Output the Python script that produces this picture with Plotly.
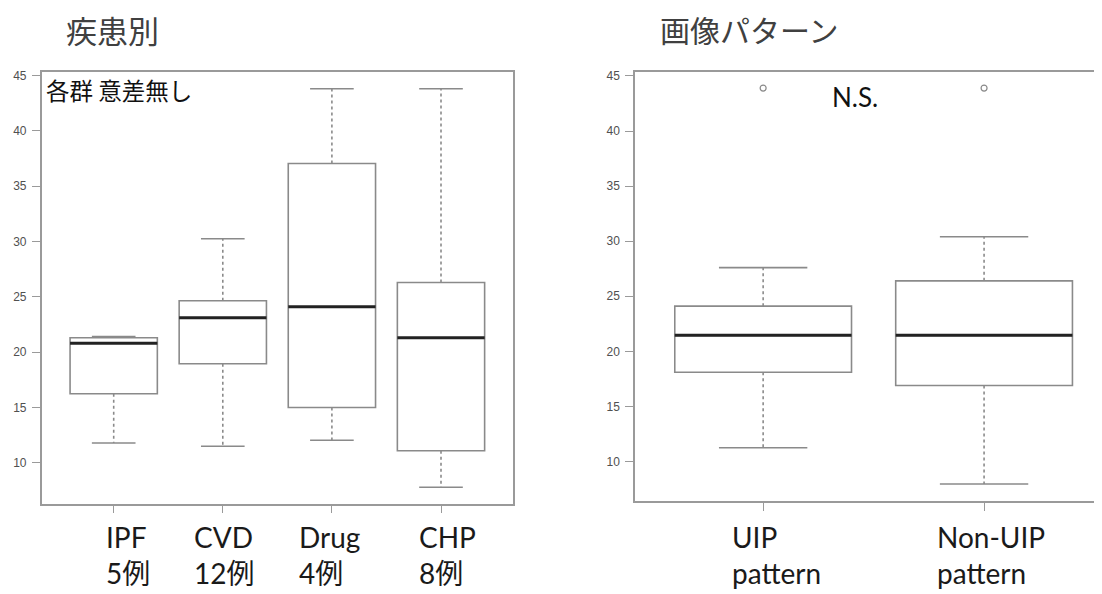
import plotly.graph_objects as go

# ---------------- data ----------------
disease_cats = ["IPF", "CVD", "Drug", "CHP"]
disease_counts = ["5例", "12例", "4例", "8例"]
disease_lower = [11.8, 11.5, 12.05, 7.8]
disease_q1 = [16.25, 18.95, 15.0, 11.1]
disease_median = [20.8, 23.1, 24.1, 21.3]
disease_q3 = [21.3, 24.65, 37.05, 26.3]
disease_upper = [21.4, 30.25, 43.8, 43.8]

pattern_cats = ["UIP", "Non-UIP"]
pattern_sub = ["pattern", "pattern"]
pattern_lower = [11.25, 7.95]
pattern_q1 = [18.1, 16.9]
pattern_median = [21.45, 21.45]
pattern_q3 = [24.1, 26.4]
pattern_upper = [27.6, 30.4]
pattern_outliers = [43.9, 43.9]

y_ticks = [10, 15, 20, 25, 30, 35, 40, 45]

title_left = "疾患別"
title_right = "画像パターン"
note_left = "各群 意差無し"
note_right = "N.S."

# ---------------- style / layout helpers ----------------
W, H = 1102, 594
OFF = 8  # page body margin of the written html


def px_x(p):
    return (p - OFF) / W


def px_y(p):
    return 1 - (p - OFF) / H


BOX_COL = "#8a8a8a"
AXIS_COL = "#9a9a9a"
MED_COL = "#222222"
BOX_W = 0.8
CAP_HALF = 0.2
LABEL_FONT = dict(family="Lato, 'Noto Sans CJK JP'", size=28, color="#1a1a1a")
label_shift_left = [-10, -31, -35, -24]
label_shift_right = [-33, -49]

fig = go.Figure()


def add_boxes(xref, yref, lows, q1s, meds, q3s, ups):
    for i in range(len(meds)):
        pos = i + 1
        fig.add_trace(go.Box(
            x=[pos], q1=[q1s[i]], median=[meds[i]], q3=[q3s[i]],
            lowerfence=[q1s[i]], upperfence=[q3s[i]],
            width=BOX_W, whiskerwidth=0, boxpoints=False,
            fillcolor="white", line=dict(color=BOX_COL, width=1.6),
            xaxis=xref, yaxis=yref, showlegend=False, hoverinfo="skip"))
        # dotted whiskers
        fig.add_trace(go.Scatter(
            x=[pos, pos, None, pos, pos], y=[q3s[i], ups[i], None, q1s[i], lows[i]],
            mode="lines", line=dict(color=BOX_COL, width=1.6, dash="dot"),
            xaxis=xref, yaxis=yref, showlegend=False, hoverinfo="skip"))
        # caps
        fig.add_trace(go.Scatter(
            x=[pos - CAP_HALF, pos + CAP_HALF, None, pos - CAP_HALF, pos + CAP_HALF],
            y=[ups[i], ups[i], None, lows[i], lows[i]],
            mode="lines", line=dict(color=BOX_COL, width=1.6),
            xaxis=xref, yaxis=yref, showlegend=False, hoverinfo="skip"))
        # median
        fig.add_trace(go.Scatter(
            x=[pos - BOX_W / 2, pos + BOX_W / 2], y=[meds[i], meds[i]],
            mode="lines", line=dict(color=MED_COL, width=3),
            xaxis=xref, yaxis=yref, showlegend=False, hoverinfo="skip"))


add_boxes("x", "y", disease_lower, disease_q1, disease_median, disease_q3, disease_upper)
add_boxes("x2", "y2", pattern_lower, pattern_q1, pattern_median, pattern_q3, pattern_upper)

fig.add_trace(go.Scatter(
    x=list(range(1, len(pattern_outliers) + 1)), y=pattern_outliers,
    mode="markers", marker=dict(symbol="circle-open", size=6, color=BOX_COL, line=dict(width=1.2)),
    xaxis="x2", yaxis="y2", showlegend=False, hoverinfo="skip"))

tick_font = dict(family="Liberation Sans, Arial", size=12, color="#505050")
common_y = dict(tickmode="array", tickvals=y_ticks, ticks="outside", ticklen=8,
                tickcolor=AXIS_COL, showline=True, linecolor=AXIS_COL, linewidth=1.5,
                showgrid=False, zeroline=False, tickfont=tick_font, ticklabelstandoff=3)
common_x = dict(ticks="outside", ticklen=8, tickcolor=AXIS_COL, showline=True,
                linecolor=AXIS_COL, linewidth=1.5, showgrid=False, zeroline=False,
                showticklabels=False, tickmode="array")

fig.update_layout(
    width=W, height=H, margin=dict(l=0, r=0, t=0, b=0),
    paper_bgcolor="white", plot_bgcolor="white",
    xaxis=dict(domain=[px_x(41.7), px_x(513)], range=[0.34, 4.66],
               tickvals=list(range(1, len(disease_cats) + 1)), mirror=True,
               anchor="y", **common_x),
    yaxis=dict(domain=[px_y(503), px_y(69.3)], range=[6.33, 45.31], mirror=True,
               anchor="x", **common_y),
    xaxis2=dict(domain=[px_x(635), 1.0], range=[0.42, 2.57],
                tickvals=list(range(1, len(pattern_cats) + 1)), mirror=True,
                anchor="y2", **common_x),
    yaxis2=dict(domain=[px_y(500.7), px_y(69)], range=[6.39, 45.39], mirror=False,
                anchor="x2", **common_y),
)

annos = []
for i, (c, n) in enumerate(zip(disease_cats, disease_counts)):
    annos.append(dict(x=i + 1, xref="x", y=px_y(518), yref="paper",
                      text=f"{c}<br>{n}", showarrow=False, xanchor="left",
                      yanchor="top", align="left", xshift=label_shift_left[i],
                      font=LABEL_FONT))
for i, (c, n) in enumerate(zip(pattern_cats, pattern_sub)):
    annos.append(dict(x=i + 1, xref="x2", y=px_y(518), yref="paper",
                      text=f"{c}<br>{n}", showarrow=False, xanchor="left",
                      yanchor="top", align="left", xshift=label_shift_right[i],
                      font=LABEL_FONT))
annos.append(dict(x=px_x(64), y=px_y(27), xref="paper", yref="paper", text=title_left,
                  showarrow=False, xanchor="left", yanchor="middle",
                  font=dict(family="Noto Sans CJK JP", size=31, color="#404040")))
annos.append(dict(x=px_x(658), y=px_y(26), xref="paper", yref="paper", text=title_right,
                  showarrow=False, xanchor="left", yanchor="middle",
                  font=dict(family="Noto Sans CJK JP", size=30, color="#404040")))
annos.append(dict(x=px_x(44), y=px_y(87), xref="paper", yref="paper", text=note_left,
                  showarrow=False, xanchor="left", yanchor="middle",
                  font=dict(family="Noto Sans CJK JP", size=23.5, color="#111111")))
annos.append(dict(x=px_x(855), y=px_y(94), xref="paper", yref="paper", text=note_right,
                  showarrow=False, xanchor="center", yanchor="middle",
                  font=dict(family="Lato", size=26, color="#111111")))
fig.update_layout(annotations=annos)

fig.write_html("out.html")
